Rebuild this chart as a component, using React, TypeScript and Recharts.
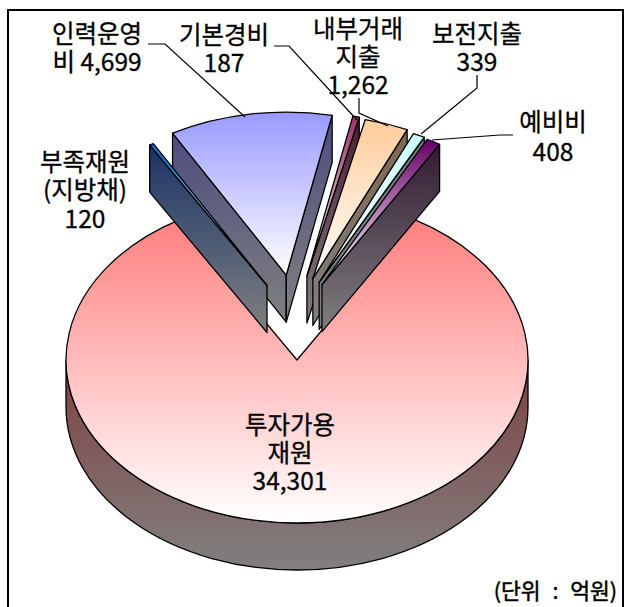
import { Pie, PieChart } from "recharts";

// drawn back to front, clockwise from the right edge of the big slice
const categories = ["투자가용재원", "부족재원", "인력운영비", "기본경비", "내부거래지출", "보전지출", "예비비"];
const values = [34301, 120, 4699, 187, 1262, 339, 408];
const faceColors = ["#ff8080", "#0066cc", "#9999ff", "#993366", "#ffcc99", "#ccffff", "#660066"];
const wallColors = ["#804040", "#1a3366", "#4d4d80", "#4d1a33", "#80664d", "#668080", "#331a33"];
const labelLines = [
  ["투자가용", "재원", "34,301"],
  ["부족재원", "(지방채)", "120"],
  ["인력운영", "비 4,699"],
  ["기본경비", "187"],
  ["내부거래", "지출", "1,262"],
  ["보전지출", "339"],
  ["예비비", "408"],
];

const labelAnchors = [
  { x: 290, y: 423, step: 28 },
  { x: 85, y: 160, step: 28.5 },
  { x: 97, y: 32, step: 28 },
  { x: 224, y: 33, step: 28 },
  { x: 358, y: 27, step: 28 },
  { x: 477, y: 32, step: 28 },
  { x: 553, y: 120, step: 30 },
];
const leaderLines = [
  "",
  "",
  "148,44 165,44 245,117",
  "274,46 289,46 357,120",
  "359,98 359,113 388,126",
  "477,75 477,88 421,134",
  "513,135 500,135 432,140",
];

const chartData = categories.map((name, i) => ({ name, value: values[i], index: i }));

const WIDTH = 624;
const HEIGHT = 607;
const CX = 297;
const CY = 360;
const RX = 231;
const RY = 163;
const DEPTH = 47;
const EXPLODE_X = 56;
const EXPLODE_Y = 86;
const EXPLODE_SHIFT = -2;
const FONT = '"Noto Sans CJK KR", "Noto Sans", sans-serif';

// clock angle: 0 at the top, growing clockwise
function toClock(angle: number) {
  return 90 - angle;
}

function rad(deg: number) {
  return (deg * Math.PI) / 180;
}

// -180..180, negative when the edge leans left of the top
function lean(clock: number) {
  return ((clock + 540) % 360) - 180;
}

function rim(ox: number, oy: number, clock: number) {
  return {
    x: ox + RX * Math.sin(rad(clock)),
    y: oy - RY * Math.cos(rad(clock)),
  };
}

function wall(o: { x: number; y: number }, p: { x: number; y: number }) {
  return `M${o.x},${o.y} L${p.x},${p.y} L${p.x},${p.y + DEPTH} L${o.x},${o.y + DEPTH} Z`;
}

function Wedge({ startAngle, endAngle, cx, cy, payload }: any) {
  const i = payload.index;
  const start = toClock(startAngle);
  const end = toClock(endAngle);
  const id = `slice-${i}`;
  const isMain = i === 0;
  const mid = rad((start + end) / 2);
  const ox = isMain ? cx : cx + EXPLODE_SHIFT + EXPLODE_X * Math.sin(mid);
  const oy = isMain ? cy : cy - EXPLODE_Y * Math.cos(mid);
  const apex = { x: ox, y: oy };
  const a = rim(ox, oy, start);
  const b = rim(ox, oy, end);
  const large = end - start > 180 ? 1 : 0;
  const face = `M${ox},${oy} L${a.x},${a.y} A${RX},${RY} 0 ${large} 1 ${b.x},${b.y} Z`;
  const line = { stroke: "#000", strokeWidth: 1.3, strokeLinejoin: "round" as const };

  return (
    <g>
      <defs>
        <linearGradient id={`${id}-face`} x1="0" x2="0" y1="0" y2="1">
          <stop offset="0%" stopColor={faceColors[i]} />
          <stop offset="100%" stopColor="#ffffff" />
        </linearGradient>
        <linearGradient id={`${id}-wall`} x1="0" x2="0" y1="0" y2="1">
          <stop offset="0%" stopColor={wallColors[i]} />
          <stop offset="100%" stopColor="#808080" />
        </linearGradient>
      </defs>
      {isMain && (
        <path
          d={`M${ox - RX},${oy} A${RX},${RY} 0 0 0 ${ox + RX},${oy} L${ox + RX},${oy + DEPTH} A${RX},${RY} 0 0 1 ${ox - RX},${oy + DEPTH} Z`}
          fill={`url(#${id}-wall)`}
          {...line}
        />
      )}
      {!isMain && lean(start) < 0 && <path d={wall(apex, a)} fill={`url(#${id}-wall)`} {...line} />}
      {!isMain && lean(end) > 0 && <path d={wall(apex, b)} fill={`url(#${id}-wall)`} {...line} />}
      <path d={face} fill={`url(#${id}-face)`} {...line} />
    </g>
  );
}

function SliceLabel({ index }: any) {
  const anchor = labelAnchors[index];
  return (
    <g>
      {leaderLines[index] && <polyline points={leaderLines[index]} fill="none" stroke="#000" strokeWidth={1.2} />}
      {labelLines[index].map((text, row) => (
        <text
          key={text}
          x={anchor.x}
          y={anchor.y + row * anchor.step}
          textAnchor="middle"
          dominantBaseline="central"
          fontFamily={FONT}
          fontSize={24.5}
          fontWeight={400}
          stroke="#000"
          strokeWidth={0.3}
          fill="#000"
        >
          {text}
        </text>
      ))}
    </g>
  );
}

export default function App() {
  return (
    <div style={{ position: "absolute", left: 0, top: 0, width: WIDTH, height: HEIGHT, overflow: "hidden", background: "#fff" }}>
      <div
        style={{
          position: "absolute",
          left: 7,
          top: 9,
          width: 613,
          height: 620,
          border: "2px solid #000",
        }}
      />
      <div style={{ position: "absolute", left: 0, top: 0 }}>
        <PieChart width={WIDTH} height={HEIGHT} margin={{ top: 0, right: 0, bottom: 0, left: 0 }}>
          <Pie
            data={chartData}
            dataKey="value"
            nameKey="name"
            cx={CX}
            cy={CY}
            outerRadius={RX}
            startAngle={59.4}
            endAngle={-300.6}
            isAnimationActive={false}
            label={(props: any) => <SliceLabel {...props} />}
            labelLine={false}
            shape={(props: any) => (props.payload.index === 1 ? <g /> : <Wedge {...props} />)}
          />
          {/* the thin navy slice sits in front of the blue one */}
          <Pie
            data={chartData}
            dataKey="value"
            nameKey="name"
            cx={CX}
            cy={CY}
            outerRadius={RX}
            startAngle={59.4}
            endAngle={-300.6}
            isAnimationActive={false}
            label={false}
            labelLine={false}
            shape={(props: any) => (props.payload.index === 1 ? <Wedge {...props} /> : <g />)}
          />
          <text
            x={617}
            y={589}
            textAnchor="end"
            dominantBaseline="central"
            fontFamily={FONT}
            fontSize={21.5}
            wordSpacing={7}
            fontWeight={400}
            stroke="#000"
            strokeWidth={0.5}
            fill="#000"
          >
            (단위 : 억원)
          </text>
        </PieChart>
      </div>
    </div>
  );
}
